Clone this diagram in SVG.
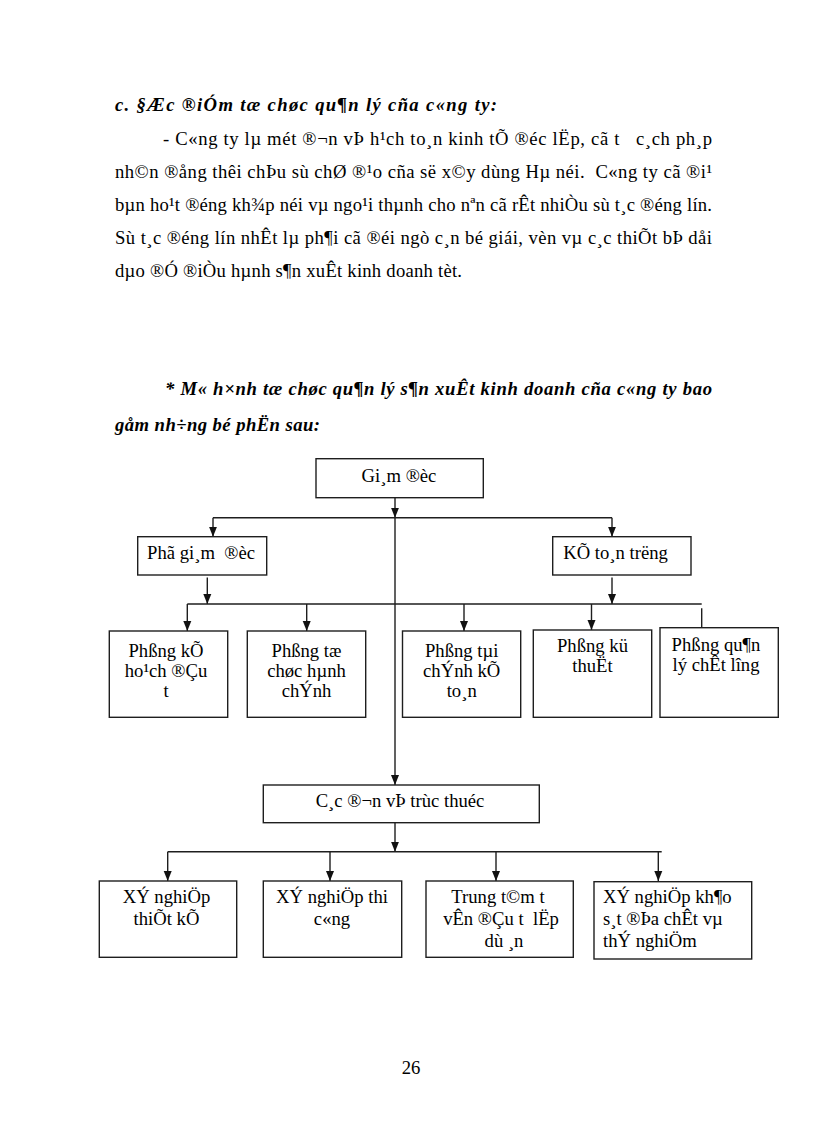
<svg xmlns="http://www.w3.org/2000/svg" width="816" height="1123" viewBox="0 0 816 1123">
<style>
text { font-family: "Liberation Serif", "Times New Roman", serif; font-size: 18.67px; fill: #000; white-space: pre; }
.bi { font-weight: bold; font-style: italic; }
.c { text-anchor: middle; }
.box { fill: #fff; stroke: #1e1e1e; stroke-width: 1.4; }
.conn path { fill: none; stroke: #1e1e1e; stroke-width: 1.4; }
.arr { marker-end: url(#ah); }
</style>
<defs>
<marker id="ah" markerUnits="userSpaceOnUse" markerWidth="10" markerHeight="10" viewBox="0 0 10 10" refX="10" refY="5" orient="auto">
<path d="M0,1 L10,5 L0,9 Z" fill="#111"/>
</marker>
</defs>
<rect width="816" height="1123" fill="#fff"/>

<g id="body-text">
<text class="bi" x="115" y="111" textLength="382" lengthAdjust="spacing">c. §Æc ®iÓm tæ chøc qu¶n lý cña c«ng ty:</text>
<text x="163" y="144.5" textLength="549" lengthAdjust="spacing">- C«ng ty lµ mét ®¬n vÞ h¹ch to¸n kinh tÕ ®éc lËp, cã t   c¸ch ph¸p</text>
<text x="115" y="177.5" textLength="597" lengthAdjust="spacing">nh©n ®ång thêi chÞu sù chØ ®¹o cña së x©y dùng Hµ néi.  C«ng ty cã ®i¹</text>
<text x="115" y="210.5" textLength="597" lengthAdjust="spacing">bµn ho¹t ®éng kh¾p néi vµ ngo¹i thµnh cho nªn cã rÊt nhiÒu sù t¸c ®éng lín.</text>
<text x="115" y="243.5" textLength="597" lengthAdjust="spacing">Sù t¸c ®éng lín nhÊt lµ ph¶i cã ®éi ngò c¸n bé giái, vèn vµ c¸c thiÕt bÞ dåi</text>
<text x="115" y="276.5" textLength="347" lengthAdjust="spacing">dµo ®Ó ®iÒu hµnh s¶n xuÊt kinh doanh tèt.</text>
<text class="bi" x="165" y="395" textLength="547" lengthAdjust="spacing">* M« h×nh tæ chøc qu¶n lý s¶n xuÊt kinh doanh cña c«ng ty bao</text>
<text class="bi" x="115" y="431" textLength="205" lengthAdjust="spacing">gåm nh÷ng bé phËn sau:</text>
<text class="c" x="411" y="1074">26</text>
</g>

<g class="conn" id="connectors">
<path class="arr" d="M395,498 V517.7"/>
<path class="arr" d="M395,517.7 V785"/>
<path d="M213,517.7 H612"/>
<path class="arr" d="M213,517.7 V536.7"/>
<path class="arr" d="M612,517.7 V536.7"/>
<path class="arr" d="M207.3,577.5 V604"/>
<path class="arr" d="M612,577.5 V604"/>
<path d="M187.3,604 H701.7"/>
<path class="arr" d="M187.3,604 V631"/>
<path class="arr" d="M306.7,604 V631"/>
<path class="arr" d="M464,604 V631"/>
<path class="arr" d="M591.5,604 V630"/>
<path d="M701.7,608.3 V627.7"/>
<path class="arr" d="M395,822.7 V851.7"/>
<path d="M167.7,851.7 H661.7"/>
<path class="arr" d="M167.7,851.7 V881"/>
<path class="arr" d="M330,851.7 V881"/>
<path class="arr" d="M496,851.7 V881"/>
<path class="arr" d="M658.3,851.7 V881"/>
</g>

<g id="giam-doc">
<rect class="box" x="316" y="458.7" width="167.3" height="39"/>
<text class="c" x="399" y="482">Gi¸m ®èc</text>
</g>
<g id="pho-giam-doc">
<rect class="box" x="137.7" y="536.7" width="129" height="38.3"/>
<text class="c" x="201" y="558.5">Phã gi¸m  ®èc</text>
</g>
<g id="ke-toan-truong">
<rect class="box" x="552.7" y="536.7" width="138.3" height="38.3"/>
<text class="c" x="615.5" y="558.5">KÕ to¸n trëng</text>
</g>

<g id="phong-ke-hoach">
<rect class="box" x="109.3" y="631" width="118.4" height="86.3"/>
<text class="c" x="166" y="657">Phßng kÕ</text>
<text class="c" x="166" y="677">ho¹ch ®Çu</text>
<text class="c" x="166" y="697">t</text>
</g>
<g id="phong-to-chuc">
<rect class="box" x="247.3" y="631" width="118.4" height="86.3"/>
<text class="c" x="306.5" y="657">Phßng tæ</text>
<text class="c" x="306.5" y="677">chøc hµnh</text>
<text class="c" x="306.5" y="697">chÝnh</text>
</g>
<g id="phong-tai-chinh">
<rect class="box" x="402.5" y="631" width="118.2" height="86.3"/>
<text class="c" x="461.7" y="657">Phßng tµi</text>
<text class="c" x="461.7" y="677">chÝnh kÕ</text>
<text class="c" x="461.7" y="697">to¸n</text>
</g>
<g id="phong-ky-thuat">
<rect class="box" x="533.3" y="630" width="118.4" height="87.3"/>
<text class="c" x="592.5" y="652">Phßng kü</text>
<text class="c" x="592.5" y="672">thuËt</text>
</g>
<g id="phong-chat-luong">
<rect class="box" x="660" y="627.7" width="118.3" height="89.6"/>
<text class="c" x="716" y="651">Phßng qu¶n</text>
<text class="c" x="716" y="671">lý chÊt lîng</text>
</g>

<g id="cac-don-vi">
<rect class="box" x="263.3" y="785" width="276" height="37.7"/>
<text class="c" x="400" y="807">C¸c ®¬n vÞ trùc thuéc</text>
</g>

<g id="xn-thiet-ke">
<rect class="box" x="99.3" y="881" width="137.4" height="76.3"/>
<text class="c" x="166.5" y="903">XÝ nghiÖp</text>
<text class="c" x="166.5" y="925">thiÕt kÕ</text>
</g>
<g id="xn-thi-cong">
<rect class="box" x="263.3" y="881" width="138.4" height="76.3"/>
<text class="c" x="332" y="903">XÝ nghiÖp thi</text>
<text class="c" x="332" y="925">c«ng</text>
</g>
<g id="trung-tam">
<rect class="box" x="426" y="881" width="147.3" height="76.3"/>
<text class="c" x="498" y="903">Trung t©m t</text>
<text class="c" x="501" y="925">vÊn ®Çu t  lËp</text>
<text class="c" x="504" y="947">dù ¸n</text>
</g>
<g id="xn-khao-sat">
<rect class="box" x="594" y="881.7" width="157.7" height="77.3"/>
<text x="603" y="903">XÝ nghiÖp kh¶o</text>
<text x="603" y="925">s¸t ®Þa chÊt vµ</text>
<text x="603" y="947">thÝ nghiÖm</text>
</g>
</svg>
